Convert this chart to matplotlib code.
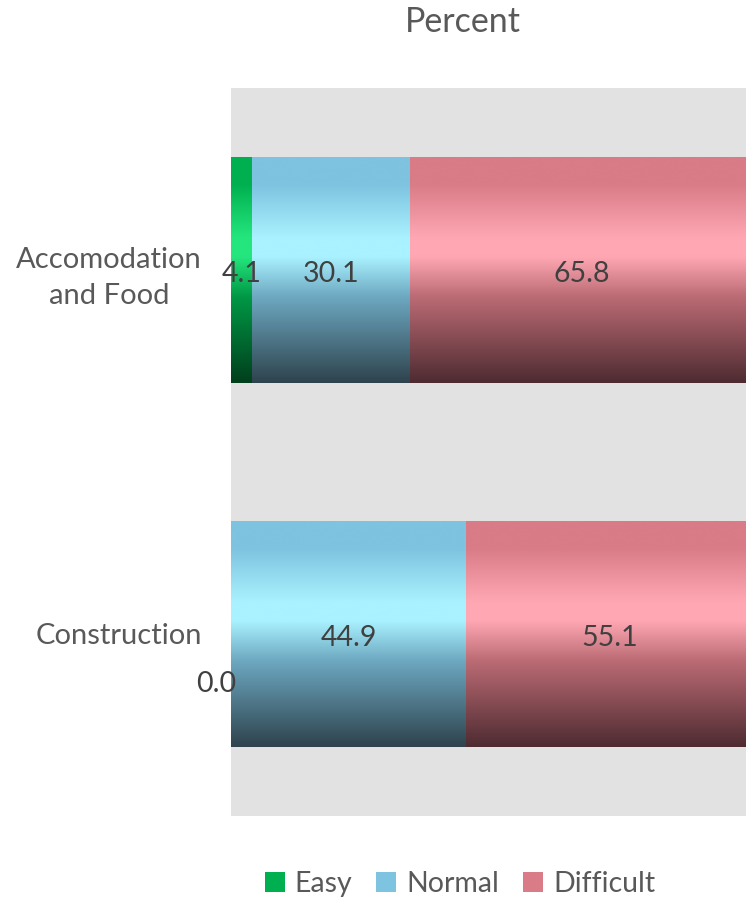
import numpy as np
import matplotlib.pyplot as plt
from matplotlib.colors import LinearSegmentedColormap, to_rgb
from matplotlib.patches import Patch

categories = ["Accomodation\nand Food", "Construction"]
series = ["Easy", "Normal", "Difficult"]
easy = [4.1, 0.0]
normal = [30.1, 44.9]
difficult = [65.8, 55.1]

# base / highlight / shadow colours per series
base_colors = ["#00B050", "#7EC3E0", "#D97C87"]
light_colors = ["#25E67E", "#AAF2FF", "#FFA8B4"]
dark_colors = ["#003F1C", "#2E434D", "#4E2B31"]

plt.rcParams["font.family"] = ["Lato", "DejaVu Sans"]

fig = plt.figure(figsize=(7.46, 8.99), dpi=100)
W, H = 746, 899
# plot area runs a little past the right edge of the picture
ax = fig.add_axes([231 / W, 1 - 816 / H, 523 / W, 728 / H])
ax.set_facecolor("#E2E2E2")

y = np.arange(len(categories))
left = np.zeros(len(categories))
values = [easy, normal, difficult]

for i, vals in enumerate(values):
    cmap = LinearSegmentedColormap.from_list(
        series[i],
        [(0.0, base_colors[i]), (0.12, base_colors[i]), (0.36, light_colors[i]),
         (0.44, light_colors[i]), (0.62, tuple(c * 0.86 for c in to_rgb(base_colors[i]))),
         (1.0, dark_colors[i])])
    grad = np.linspace(0, 1, 256).reshape(-1, 1)
    bars = ax.barh(y, vals, left=left, height=0.62, color="none", edgecolor="none")
    for bar, v in zip(bars, vals):
        if v <= 0:
            continue
        x0, y0 = bar.get_x(), bar.get_y()
        w, h = bar.get_width(), bar.get_height()
        # y axis is inverted, so image row 0 sits at the top of the bar
        ax.imshow(grad, cmap=cmap, aspect="auto", extent=(x0, x0 + w, y0 + h, y0),
                  interpolation="bicubic", zorder=2)
    for j, v in enumerate(vals):
        if v > 0:
            ax.text(left[j] + v / 2, y[j] + 0.01, f"{v:.1f}", ha="center", va="center",
                    fontsize=20.5, color="#404040", zorder=3)
        else:
            ax.annotate(f"{v:.1f}", (left[j], y[j]), xytext=(4, -36),
                        textcoords="offset points", ha="right", va="center",
                        fontsize=20.5, color="#404040", annotation_clip=False)
    left += np.array(vals)

ax.set_xlim(0, 100)
ax.set_ylim(1.5, -0.5)
ax.set_yticks(y)
ax.set_yticklabels(categories, fontsize=21, color="#595959", multialignment="center",
                   linespacing=1.5)
ax.tick_params(axis="y", length=0, pad=21)
ax.set_xticks([])
for s in ax.spines.values():
    s.set_visible(False)

fig.text(463 / W, 1 - 22 / H, "Percent", ha="center", va="center", fontsize=24.5, color="#595959")

handles = [Patch(facecolor=c, edgecolor="none") for c in base_colors]
fig.legend(handles, series, loc="center", bbox_to_anchor=(460 / W, 1 - 884 / H), ncol=3,
           frameon=False, fontsize=20.5, labelcolor="#595959", handlelength=0.7,
           handleheight=0.7, handletextpad=0.35, columnspacing=0.85)

fig.savefig("out.png", dpi=100)
